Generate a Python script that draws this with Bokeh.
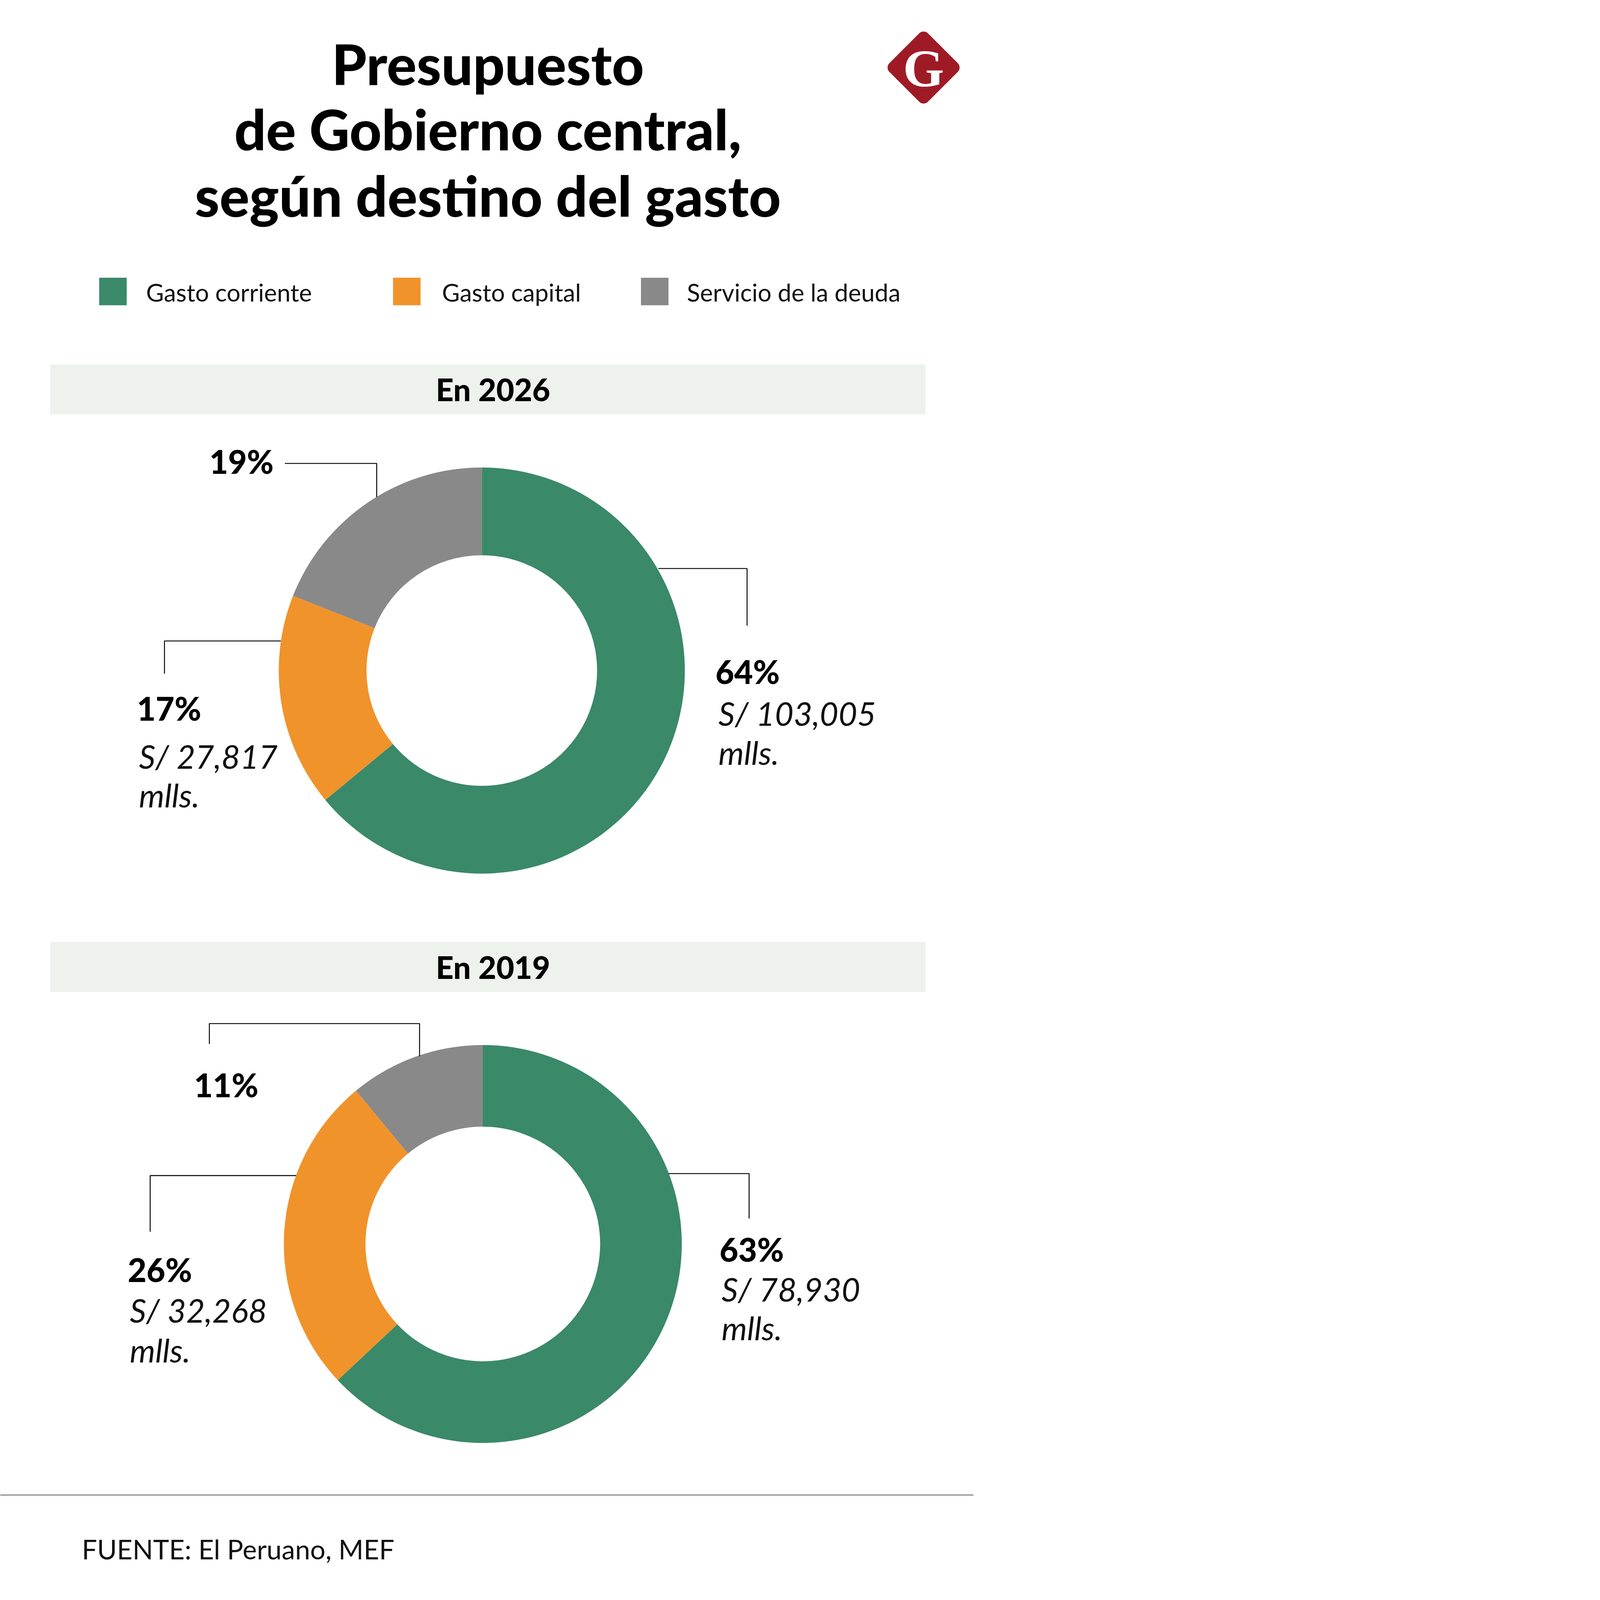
import numpy as np
from bokeh.plotting import figure
from bokeh.models import Range1d, ColumnDataSource
from bokeh.core.properties import value
from bokeh.embed import file_html
from bokeh.resources import INLINE

# ---------------- data ----------------
categories = ["Gasto corriente", "Gasto capital", "Servicio de la deuda"]
colors = ["#3A8969", "#F0932B", "#898989"]
pct_2026 = [64, 17, 19]
pct_2019 = [63, 26, 11]
amount_2026 = ["S/ 103,005", "S/ 27,817"]
amount_2019 = ["S/ 78,930", "S/ 32,268"]
title_lines = ["Presupuesto", "de Gobierno central,", "según destino del gasto"]
source_text = "FUENTE: El Peruano, MEF"

# ---------------- canvas ----------------
# layout units (W x H); the captured area is 4096 px square, so the whole
# infographic is scaled uniformly to fit its height.
W, H = 954, 1562
PH = 4080
SX = PH / H
PW = int(round(W * SX))
K = SX / 4.35           # font / line scale relative to the full-size design
FONT = "Lato"
HEAVY = "'Lato Black', Lato"


def Y(y):
    return H - y


def fs(px):
    return f"{px * K:.1f}px"


p = figure(width=PW, height=PH, x_range=Range1d(0, PW / SX), y_range=Range1d(0, H),
           output_backend="svg", toolbar_location=None, min_border=0,
           x_axis_type=None, y_axis_type=None)
p.grid.visible = False
p.outline_line_color = None
p.background_fill_color = "white"
p.border_fill_color = "white"


def txt(x, y, s, size, style="normal", align="left", color="#111111", font=FONT):
    p.text(x=[x], y=[Y(y)], text=[s], text_font=value(font), text_font_size=value(fs(size)),
           text_font_style=style, text_align=align, text_baseline="middle", text_color=color)


# ---------------- title ----------------
for line, yc in zip(title_lines, [62, 126, 191]):
    txt(478, yc, line, 238, style="bold", align="center", color="#000000", font=HEAVY)

# ---------------- logo ----------------
cx, cy = 905, 66
tip = 35.3
r = 6.0
h = (tip + r * (np.sqrt(2) - 1)) / np.sqrt(2)
pts = []
for k, (sx, sy) in enumerate([(1, 1), (-1, 1), (-1, -1), (1, -1)]):
    a0 = np.pi / 2 * k
    for t in np.linspace(a0, a0 + np.pi / 2, 10):
        pts.append((sx * (h - r) + r * np.cos(t), sy * (h - r) + r * np.sin(t)))
pts = np.array(pts)
rot = np.pi / 4
lx = pts[:, 0] * np.cos(rot) - pts[:, 1] * np.sin(rot)
ly = pts[:, 0] * np.sin(rot) + pts[:, 1] * np.cos(rot)
p.patch(x=list(cx + lx), y=list(Y(cy) + ly), fill_color="#9E1B25", line_color=None)
txt(cx, cy + 1, "G", 225, style="bold", align="center", color="white", font="Liberation Serif")

# ---------------- legend ----------------
leg_sq_x = [110.5, 398.5, 641.5]
leg_tx_x = [143, 433, 673]
for c, name, sx, tx in zip(colors, categories, leg_sq_x, leg_tx_x):
    p.rect(x=[sx], y=[Y(285.5)], width=27, height=27, fill_color=c, line_color=None)
    txt(tx, 286, name, 104, color="#111111")


# ---------------- helpers ----------------
def donut(pcts, cx, cy, r_in, r_out):
    cum = np.cumsum([0] + list(pcts)) / 100.0
    start = np.pi / 2 - cum[:-1] * 2 * np.pi
    end = np.pi / 2 - cum[1:] * 2 * np.pi
    src = ColumnDataSource(dict(x=[cx] * len(pcts), y=[Y(cy)] * len(pcts),
                                start=list(start), end=list(end), color=colors))
    p.annular_wedge(x="x", y="y", inner_radius=r_in, outer_radius=r_out,
                    start_angle="start", end_angle="end", direction="clock",
                    fill_color="color", line_color=None, source=src)


def band(ytop, ybot, label):
    p.quad(left=[49], right=[907], top=[Y(ytop)], bottom=[Y(ybot)],
           fill_color="#EDF2ED", line_color=None)
    txt(483, (ytop + ybot) / 2, label, 132, style="bold", align="center", color="#000000", font=HEAVY)


def leader(xs, ys):
    p.line(x=xs, y=[Y(v) for v in ys], line_color="#000000", line_width=4 * K)


# ---------------- 2026 ----------------
band(357, 406, "En 2026")
donut(pct_2026, 472, 657, 113, 199)
leader([279, 369, 369], [454, 454, 487])
leader([645, 732, 732], [557, 557, 613])
leader([275, 161, 161], [628, 628, 660])
txt(205, 452, f"{pct_2026[2]}%", 138, style="bold", color="#000000", font=HEAVY)
txt(701, 658, f"{pct_2026[0]}%", 138, style="bold", color="#000000", font=HEAVY)
txt(704, 699, amount_2026[0], 138, style="italic")
txt(704, 737, "mlls.", 138, style="italic")
txt(134, 694, f"{pct_2026[1]}%", 138, style="bold", color="#000000", font=HEAVY)
txt(136, 741, amount_2026[1], 138, style="italic")
txt(136, 779, "mlls.", 138, style="italic")

# ---------------- 2019 ----------------
band(923, 972, "En 2019")
donut(pct_2019, 473, 1219, 115, 195)
leader([205, 205, 411, 411], [1023, 1003, 1003, 1035])
leader([655, 734, 734], [1150, 1150, 1194])
leader([290, 147, 147], [1152, 1152, 1207])
txt(190, 1063, f"{pct_2019[2]}%", 138, style="bold", color="#000000", font=HEAVY)
txt(705, 1224, f"{pct_2019[0]}%", 138, style="bold", color="#000000", font=HEAVY)
txt(707, 1263, amount_2019[0], 138, style="italic")
txt(707, 1301, "mlls.", 138, style="italic")
txt(125, 1244, f"{pct_2019[1]}%", 138, style="bold", color="#000000", font=HEAVY)
txt(127, 1284, amount_2019[1], 138, style="italic")
txt(127, 1323, "mlls.", 138, style="italic")

# ---------------- footer ----------------
p.line(x=[0, W], y=[Y(1465), Y(1465)], line_color="#8C8C8C", line_width=5 * K)
txt(80, 1518, source_text, 115, color="#111111")

open("out.html", "w").write(file_html(p, INLINE))
